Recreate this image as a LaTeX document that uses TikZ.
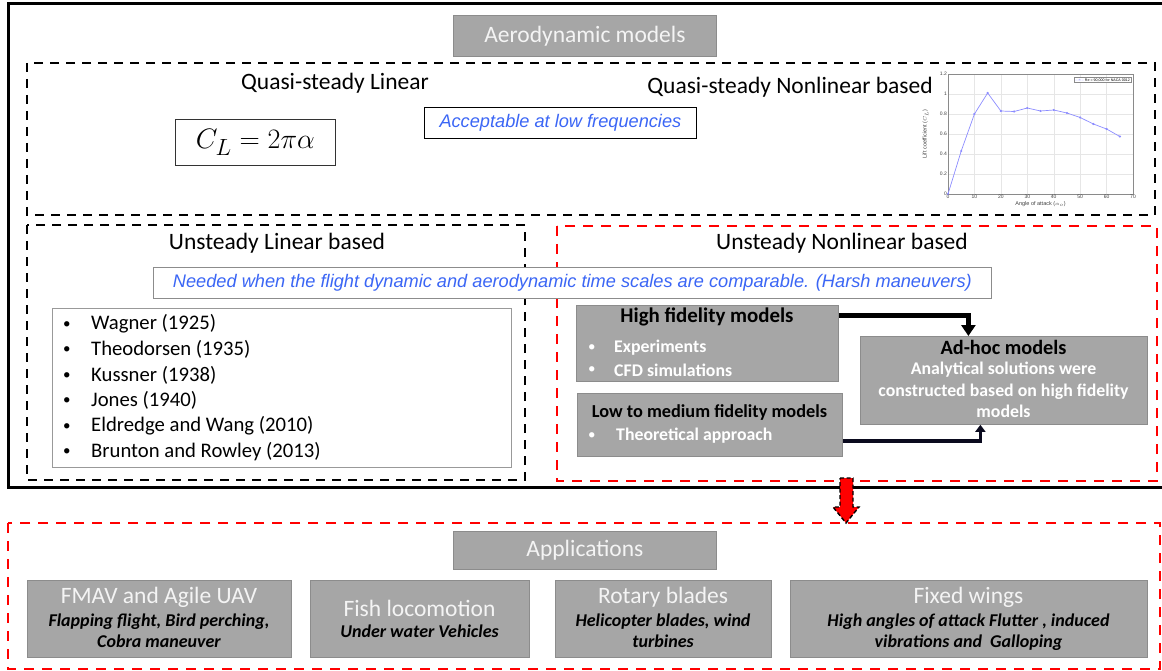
\documentclass[tikz,border=0pt]{standalone}
\usepackage{fontspec}
\setmainfont{Carlito}
\newfontfamily\arialf{Liberation Sans}
\usetikzlibrary{arrows.meta,calc}
\definecolor{boxgray}{HTML}{A6A6A6}
\definecolor{boxedge}{HTML}{8C8C8C}
\definecolor{titlewhite}{HTML}{F4F4F4}
\definecolor{noteblue}{HTML}{3B66F5}
\definecolor{gridc}{HTML}{E6E6E6}
\definecolor{axisc}{HTML}{8A8A8A}
\definecolor{plotblue}{HTML}{8C8CFF}
\definecolor{arrowdark}{HTML}{0A0A1E}
\tikzset{
  graybox/.style={draw=boxedge, fill=boxgray, line width=0.8pt, inner sep=0pt, anchor=north west},
  thinbox/.style={draw=#1, line width=0.8pt, inner sep=0pt, anchor=north west},
  titlef/.style={font=\fontsize{23.5}{28}\selectfont},
  whitetitle/.style={titlef, text=titlewhite},
  notef/.style={font=\arialf\itshape\fontsize{18.2}{22}\selectfont, text=noteblue},
  reff/.style={font=\fontsize{20.7}{24}\selectfont, anchor=west, inner sep=0pt},
  bulf/.style={font=\fontsize{15}{18}\selectfont, anchor=west, inner sep=0pt},
  boldwhite/.style={font=\bfseries\fontsize{17.8}{21.5}\selectfont, text=white, inner sep=0pt},
  subf/.style={font=\bfseries\itshape\fontsize{18}{21}\selectfont, text=black, align=center, inner sep=0pt},
  blkdash/.style={draw=black, line width=2.4pt, dash pattern=on 9pt off 7pt},
  reddash/.style={draw=red, line width=2.6pt, dash pattern=on 10pt off 8pt},
  tick/.style={font=\arialf\fontsize{5}{6}\selectfont, text=black!75, inner sep=1pt},
}
\begin{document}
\begin{tikzpicture}[x=1pt,y=-1pt]
\useasboundingbox (0,0) rectangle (1162,671);
% outer frame
\draw[line width=3pt] (8,4) rectangle (1170,487);
\node[graybox, minimum width=263, minimum height=41, whitetitle] (aero) at (453,15) {Aerodynamic models};
% quasi-steady region
\draw[blkdash] (27,63) rectangle (1155,215);
\node[titlef] (qsl) at (335,83) {Quasi-steady Linear};
\node[thinbox=black!80, minimum width=160, minimum height=46] (cl) at (175,119) {\scalebox{1.13}{\fontsize{24.88}{30}\selectfont$C_L = 2\pi\alpha$}};
\node[thinbox=black, minimum width=272, minimum height=31, notef] (acc) at (424,107) {Acceptable at low frequencies};
\node[titlef] (qsn) at (790,87) {Quasi-steady Nonlinear based};
% plot
\begin{scope}[shift={(948,194)}, x=2.643pt, y=100pt]
  \foreach \g in {10,20,30,40,50,60} \draw[gridc, line width=0.4pt] (\g,0) -- (\g,1.2);
  \foreach \g in {0.2,0.4,0.6,0.8,1} \draw[gridc, line width=0.4pt] (0,\g) -- (70,\g);
  \draw[axisc, line width=0.5pt] (0,0) rectangle (70,1.2);
  \draw[plotblue, line width=0.7pt, mark=*, mark size=0.7pt, mark options={fill=plotblue}] plot coordinates {(0,0) (5,0.43) (10,0.8) (15,1.01) (20,0.83) (25,0.825) (30,0.86) (35,0.83) (40,0.84) (45,0.81) (50,0.765) (55,0.70) (60,0.65) (65,0.575)};
  \foreach \g in {0,10,20,30,40,50,60,70} \node[tick, below] (xt\g) at (\g,0) {\g};
  \foreach \g/\l in {0/0,0.2/0.2,0.4/0.4,0.6/0.6,0.8/0.8,1/1,1.2/1.2} \node[tick, left] at (0,\g) {\l};
  \node[tick, font=\arialf\fontsize{5.5}{6}\selectfont] (xlab) at (35,-0.1) {Angle of attack ($\alpha_o$)};
  \node[tick, font=\arialf\fontsize{5.5}{6}\selectfont, rotate=90] (ylab) at (-8.5,0.6) {Lift coefficient ($C_L$)};
  \node[draw=axisc, fill=white, line width=0.3pt, inner sep=1pt, font=\arialf\fontsize{3.6}{4}\selectfont] (leg) at (58.5,1.14) {\textcolor{plotblue}{--$\ast$--}~Re = 90,000 for NACA 0012};
\end{scope}
% unsteady linear
\draw[blkdash] (27,225) rectangle (525,480);
\node[titlef] (ulb) at (277,243) {Unsteady Linear based};
% unsteady nonlinear
\draw[reddash] (557,226) rectangle (1157,481);
\node[titlef] (unb) at (842,243) {Unsteady Nonlinear based};
\node[thinbox=black!45, fill=white, minimum width=838, minimum height=31, notef] (need) at (153,267) {Needed when the flight dynamic and aerodynamic time scales are comparable. (Harsh maneuvers)};
% references
\node[thinbox=black!40, minimum width=459, minimum height=159] (refs) at (52,308) {};
\foreach \t [count=\i] in {Wagner (1925), Theodorsen (1935), Kussner (1938), Jones (1940), Eldredge and Wang (2010), Brunton and Rowley (2013)} {
  \node[bulf] (rb\i) at (63,{325+25.5*(\i-1)}) {\textbullet};
  \node[reff] (rt\i) at (91,{324+25.5*(\i-1)}) {\t};
}
% nonlinear models
\node[graybox, minimum width=262, minimum height=76] (hf) at (576,305) {};
\node[font=\bfseries\fontsize{20.9}{24}\selectfont, inner sep=0pt] (hft) at (707,317) {High fidelity models};
\node[bulf, text=white] (hfb1) at (588,348) {\textbullet};
\node[boldwhite, anchor=west] (hfe) at (614,348) {Experiments};
\node[bulf, text=white] (hfb2) at (588,370) {\textbullet};
\node[boldwhite, anchor=west] (hfc) at (614,370) {CFD simulations};
\node[graybox, minimum width=265, minimum height=63] (lm) at (577,393) {};
\node[font=\bfseries\fontsize{18.3}{22}\selectfont, inner sep=0pt] (lmt) at (709.5,413) {Low to medium fidelity models};
\node[bulf, text=white] (lmb) at (588,436) {\textbullet};
\node[boldwhite, anchor=west] (lmtx) at (616,436) {Theoretical approach};
\node[graybox, minimum width=287, minimum height=88] (ah) at (860,336) {};
\node[font=\bfseries\fontsize{20.3}{24}\selectfont, inner sep=0pt] (aht) at (1003.5,347) {Ad-hoc models};
\node[boldwhite, align=center, anchor=north] (ahx) at (1003.5,362) {Analytical solutions were\\constructed based on high fidelity\\models};
\draw[line width=5pt, -{Triangle[length=11pt,width=14pt]}] (hf.north east) ++(0,10) -| ([xshift=-35.5pt]ah.north);
\draw[arrowdark, line width=3.5pt, -{Triangle[length=7pt,width=10pt]}] (lm.south east) ++(0,-16) -| ([xshift=-23.5pt]ah.south);
% down block arrow
\coordinate (rtop) at (846,478);
\draw[fill=red, draw=black, line width=1.4pt, dash pattern=on 4pt off 2.5pt] (840,478) -- (853,478) -- (853,507) -- (859,507) -- (846,523) -- (833,507) -- (840,507) -- cycle;
% applications
\draw[reddash] (8,523) rectangle (1160,669);
\node[graybox, minimum width=263, minimum height=38, whitetitle] (app) at (453,531) {Applications};
\node[graybox, minimum width=264, minimum height=77] (a1) at (27,580) {};
\node[whitetitle, inner sep=0pt] (a1t) at (159,597) {FMAV and Agile UAV};
\node[subf, anchor=north] (a1s) at (159,614) {Flapping flight, Bird perching,\\Cobra maneuver};
\node[graybox, minimum width=219, minimum height=77] (a2) at (310,580) {};
\node[whitetitle, inner sep=0pt] (a2t) at (419.5,608) {Fish locomotion};
\node[subf, anchor=north] (a2s) at (419.5,625) {Under water Vehicles};
\node[graybox, minimum width=216, minimum height=77] (a3) at (555,580) {};
\node[whitetitle, inner sep=0pt] (a3t) at (663,597) {Rotary blades};
\node[subf, anchor=north] (a3s) at (663,614) {Helicopter blades, wind\\turbines};
\node[graybox, minimum width=357, minimum height=77] (a4) at (790,580) {};
\node[whitetitle, inner sep=0pt] (a4t) at (968.5,597) {Fixed wings};
\node[subf, anchor=north] (a4s) at (968.5,614) {High angles of attack Flutter , induced\\vibrations and~ Galloping};
\end{tikzpicture}
\end{document}
